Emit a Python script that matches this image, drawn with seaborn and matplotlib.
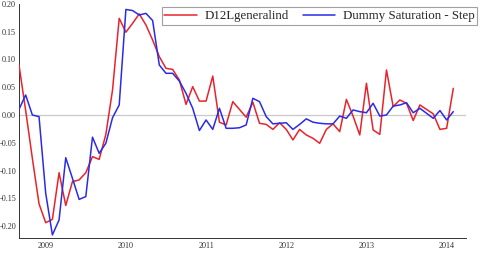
import numpy as np
import pandas as pd
import matplotlib
matplotlib.use("Agg")
import matplotlib.pyplot as plt
from matplotlib.ticker import MultipleLocator, FixedLocator
import seaborn as sns

start_month = "2008-09"
series_names = ["D12Lgeneralind", "Dummy Saturation - Step"]

d12l = [0.090, 0.008, -0.078, -0.160, -0.194, -0.188, -0.104, -0.163, -0.120, -0.117,
        -0.104, -0.075, -0.080, -0.035, 0.045, 0.174, 0.149, 0.165, 0.182, 0.162,
        0.135, 0.105, 0.084, 0.082, 0.063, 0.019, 0.051, 0.025, 0.025, 0.070,
        -0.013, -0.018, 0.024, 0.010, -0.004, 0.023, -0.015, -0.017, -0.026, -0.014,
        -0.026, -0.045, -0.026, -0.036, -0.042, -0.051, -0.026, -0.016, -0.030, 0.028,
        -0.002, -0.036, 0.057, -0.027, -0.035, 0.081, 0.015, 0.027, 0.021, -0.010,
        0.018, 0.010, 0.002, -0.026, -0.024, 0.048]

dummy_step = [0.010, 0.036, 0.000, -0.003, -0.141, -0.216, -0.189, -0.077, -0.114, -0.152,
              -0.147, -0.040, -0.069, -0.051, -0.005, 0.018, 0.190, 0.188, 0.180, 0.183,
              0.170, 0.090, 0.075, 0.075, 0.061, 0.039, 0.012, -0.028, -0.009, -0.026,
              0.012, -0.024, -0.024, -0.023, -0.018, 0.030, 0.024, -0.003, -0.016, -0.015,
              -0.014, -0.026, -0.017, -0.007, -0.013, -0.015, -0.016, -0.016, -0.002, -0.006,
              0.009, 0.006, 0.004, 0.021, -0.002, 0.000, 0.016, 0.018, 0.022, 0.004,
              0.012, 0.003, -0.006, 0.008, -0.009, 0.006]

year_ticks = [2009, 2010, 2011, 2012, 2013, 2014]
y_ticks = [-0.20, -0.15, -0.10, -0.05, 0.00, 0.05, 0.10, 0.15, 0.20]

dates = pd.date_range(start_month, periods=len(d12l), freq="MS")
t = dates.year + (dates.month - 1) / 12.0
df = pd.DataFrame({"t": np.concatenate([t, t]),
                   "value": d12l + dummy_step,
                   "series": [series_names[0]] * len(d12l) + [series_names[1]] * len(dummy_step)})

sns.set_style("white")
plt.rcParams["font.family"] = ["Liberation Serif", "DejaVu Serif"]

fig = plt.figure(figsize=(4.83, 2.63), dpi=100)
ax = fig.add_axes([0.0393, 0.0962, 0.9255, 0.889])

ax.axhline(0, color="#c8c8c8", lw=0.9, zorder=1)
sns.lineplot(data=df, x="t", y="value", hue="series",
             palette={series_names[0]: "#e8232b", series_names[1]: "#2b2be6"},
             linewidth=1.1, ax=ax, legend=True, zorder=3)

ax.set_xlim(t[0], t[0] + 66.9 / 12)
ax.set_ylim(-0.221, 0.200)
ax.set_xlabel("")
ax.set_ylabel("")

ax.xaxis.set_major_locator(FixedLocator(year_ticks))
ax.xaxis.set_minor_locator(MultipleLocator(1 / 12))
ax.set_xticklabels([str(y) for y in year_ticks])
ax.yaxis.set_major_locator(FixedLocator(y_ticks))
ax.yaxis.set_minor_locator(MultipleLocator(0.01))
ax.set_yticklabels([f"{v:.2f}" for v in y_ticks])

ax.tick_params(axis="both", which="major", direction="in", length=4, width=0.7,
               color="#333333", labelsize=5.9, labelcolor="#333333", pad=2)
ax.tick_params(axis="both", which="minor", direction="in", length=2, width=0.6, color="#333333")
ax.tick_params(axis="x", which="major", pad=3)

for s in ["top", "right"]:
    ax.spines[s].set_visible(False)
for s in ["left", "bottom"]:
    ax.spines[s].set_color("#333333")
    ax.spines[s].set_linewidth(0.7)

leg = ax.legend(loc="upper right", bbox_to_anchor=(1.025, 0.985), ncol=2, frameon=True,
                fontsize=9.3, handlelength=2.5, handletextpad=0.6, columnspacing=1.1,
                borderpad=0.2, fancybox=False, borderaxespad=0)
leg.get_frame().set_edgecolor("#888888")
leg.get_frame().set_linewidth(0.8)
for line in leg.get_lines():
    line.set_linewidth(1.1)

fig.savefig("out.png", dpi=100)
